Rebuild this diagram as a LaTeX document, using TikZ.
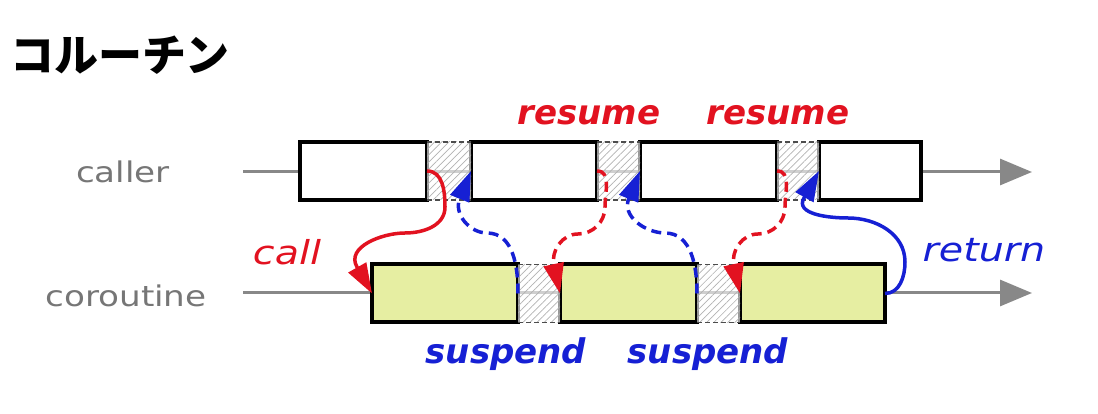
\documentclass[tikz,border=0pt]{standalone}
\usepackage{fontspec}
\setmainfont{DejaVu Sans}
\newfontfamily\widefont[FakeStretch=1.2]{DejaVu Sans}
\newfontfamily\jpfont{Noto Sans CJK JP}
\usetikzlibrary{arrows.meta,bending,patterns.meta}
\definecolor{callred}{RGB}{226,18,32}
\definecolor{callblue}{RGB}{22,32,212}
\definecolor{lanegray}{RGB}{136,136,136}
\definecolor{textgray}{RGB}{118,118,118}
\definecolor{cofill}{RGB}{230,238,162}

\begin{document}
\begin{tikzpicture}[x=1pt,y=1pt,
  lane/.style={draw=lanegray, line width=3pt, -{Triangle[length=32pt,width=26pt]}},
  callerbox/.style={draw=black, line width=4pt, fill=white, minimum height=58pt, outer sep=0pt, inner sep=0pt},
  cobox/.style={callerbox, fill=cofill},
  gapedge/.style={draw=black!70, line width=1.8pt, dash pattern=on 5pt off 3pt},
  flow/.style={line width=3.5pt, -{Triangle[length=30pt,width=20pt]}},
  back/.style={flow, dash pattern=on 10pt off 6pt},
  lanelabel/.style={text=textgray, font=\widefont\fontsize{28.5}{32}\selectfont},
  kwlabel/.style={font=\bfseries\itshape\fontsize{34}{40}\selectfont},
  oplabel/.style={font=\widefont\itshape\fontsize{33}{38}\selectfont}]
  \useasboundingbox (0,0) rectangle (1098,414);

  % Title
  \node (title) at (120,359) {\jpfont\bfseries\fontsize{44}{48}\selectfont コルーチン};

  % Lanes
  \node[lanelabel] (callerlbl) at (123,242) {caller};
  \node[lanelabel] (corolbl) at (126,118) {coroutine};
  \coordinate (callerstart) at (243,242);
  \coordinate (callerend) at (1032,242);
  \coordinate (corostart) at (243,121);
  \coordinate (coroend) at (1032,121);
  \draw[lane] (callerstart) -- (callerend);
  \draw[lane] (corostart) -- (coroend);

  % Caller boxes
  \node[callerbox, minimum width=127pt] (r1) at (363.5,243) {};
  \node[callerbox, minimum width=126pt] (r2) at (534,243) {};
  \node[callerbox, minimum width=137pt] (r3) at (708.5,243) {};
  \node[callerbox, minimum width=102pt] (r4) at (870,243) {};

  % Coroutine boxes
  \node[cobox, minimum width=146pt] (co1) at (445,120.5) {};
  \node[cobox, minimum width=137pt] (co2) at (628.5,120.5) {};
  \node[cobox, minimum width=145pt] (co3) at (812.5,120.5) {};

  % Idle gaps
  \foreach \a/\b in {r1/r2,r2/r3,r3/r4,co1/co2,co2/co3}{
    \fill[white, opacity=0.6] (\a.north east) rectangle (\b.south west);
    \fill[pattern={Lines[angle=45,distance=5pt,line width=0.7pt]}, pattern color=black!30]
      (\a.north east) rectangle (\b.south west);
    \draw[gapedge] (\a.north east) -- (\b.north west);
    \draw[gapedge] (\a.south east) -- (\b.south west);
  }

  % Transfers of control
  \draw[flow, callred] (r1.east) to[out=0,in=90] (445,207) to[out=-90,in=0] (405,181)
    to[out=180,in=120] (357,147) -- (co1.west);
  \draw[back, callblue] (co1.east) to[out=90,in=0] (487,181) to[out=180,in=-114] (460,216)
    -- (r2.west);
  \draw[back, callred] (r2.east) to[out=0,in=90] (605,207) to[out=-90,in=0] (578,180)
    to[out=180,in=103] (554,148) -- (co2.west);
  \draw[back, callblue] (co2.east) to[out=90,in=0] (665,181) to[out=180,in=-114] (629,216)
    -- (r3.west);
  \draw[back, callred] (r3.east) to[out=0,in=90] (785,207) to[out=-90,in=0] (758,180)
    to[out=180,in=103] (734,148) -- (co3.west);
  \draw[flow, callblue] (co3.east) to[out=0,in=-90] (905,152) to[out=90,in=0] (848,196)
    to[out=180,in=-120] (804,216) -- (r4.west);

  % Labels
  \node[oplabel, text=callred] (calllbl) at (287,162) {call};
  \node[oplabel, text=callblue] (retlbl) at (984,164) {return};
  \node[kwlabel, text=callred] (res1) at (589,299) {resume};
  \node[kwlabel, text=callred] (res2) at (778,299) {resume};
  \node[kwlabel, text=callblue] (sus1) at (506,60) {suspend};
  \node[kwlabel, text=callblue] (sus2) at (708,60) {suspend};
\end{tikzpicture}
\end{document}
